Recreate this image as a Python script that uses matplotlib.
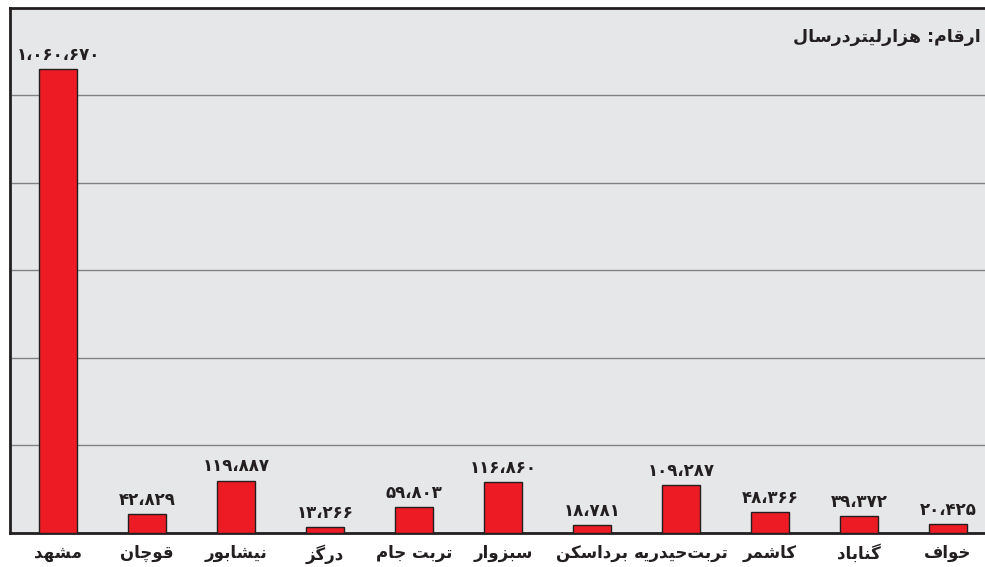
import matplotlib
matplotlib.use("Agg")
import matplotlib.pyplot as plt

CITIES = ["مشهد", "قوچان", "نیشابور", "درگز", "تربت جام", "سبزوار",
          "برداسکن", "تربت\u200cحیدریه", "کاشمر", "گناباد", "خواف"]
VOLUMES = [1060670, 42829, 119887, 13266, 59803, 116860,
           18781, 109287, 48366, 39372, 20425]
UNIT_NOTE = "ارقام: هزارلیتردرسال"

OUTPUT = "out.png"

# presentation forms: isolated, final, initial, medial
FORMS = {
    "ا": ("\uFE8D", "\uFE8E", None, None),
    "ب": ("\uFE8F", "\uFE90", "\uFE91", "\uFE92"),
    "ت": ("\uFE95", "\uFE96", "\uFE97", "\uFE98"),
    "ج": ("\uFE9D", "\uFE9E", "\uFE9F", "\uFEA0"),
    "ح": ("\uFEA1", "\uFEA2", "\uFEA3", "\uFEA4"),
    "خ": ("\uFEA5", "\uFEA6", "\uFEA7", "\uFEA8"),
    "د": ("\uFEA9", "\uFEAA", None, None),
    "ر": ("\uFEAD", "\uFEAE", None, None),
    "ز": ("\uFEAF", "\uFEB0", None, None),
    "س": ("\uFEB1", "\uFEB2", "\uFEB3", "\uFEB4"),
    "ش": ("\uFEB5", "\uFEB6", "\uFEB7", "\uFEB8"),
    "ف": ("\uFED1", "\uFED2", "\uFED3", "\uFED4"),
    "ق": ("\uFED5", "\uFED6", "\uFED7", "\uFED8"),
    "ل": ("\uFEDD", "\uFEDE", "\uFEDF", "\uFEE0"),
    "م": ("\uFEE1", "\uFEE2", "\uFEE3", "\uFEE4"),
    "ن": ("\uFEE5", "\uFEE6", "\uFEE7", "\uFEE8"),
    "ه": ("\uFEE9", "\uFEEA", "\uFEEB", "\uFEEC"),
    "و": ("\uFEED", "\uFEEE", None, None),
    "چ": ("\uFB7A", "\uFB7B", "\uFB7C", "\uFB7D"),
    "ک": ("\uFB8E", "\uFB8F", "\uFB90", "\uFB91"),
    "گ": ("\uFB92", "\uFB93", "\uFB94", "\uFB95"),
    "ی": ("\uFBFC", "\uFBFD", "\uFBFE", "\uFBFF"),
}


def dual(c):
    return c in FORMS and FORMS[c][2] is not None


def shape(text):
    # crude arabic shaping + reversal, matplotlib has no bidi support
    out = []
    n = len(text)
    for i, c in enumerate(text):
        if c not in FORMS:
            if c != "\u200c":
                out.append(c)
            continue
        prev_c = text[i - 1] if i > 0 else ""
        next_c = text[i + 1] if i < n - 1 else ""
        jp = dual(prev_c)
        jn = dual(c) and next_c in FORMS
        iso, fin, ini, med = FORMS[c]
        if jp and jn:
            out.append(med)
        elif jp:
            out.append(fin)
        elif jn:
            out.append(ini)
        else:
            out.append(iso)
    return "".join(reversed(out))


def fa_number(v):
    digits = "۰۱۲۳۴۵۶۷۸۹"
    s = f"{v:,}"
    return "".join(digits[int(ch)] if ch.isdigit() else "\u060C" for ch in s)


def plot():
    fig = plt.figure(figsize=(9.85, 5.67), dpi=100)
    ax = fig.add_axes([0.0102, 0.060, 1.001, 0.926])
    ax.set_facecolor("#e6e7e8")

    x = range(len(CITIES))
    ax.bar(x, VOLUMES, width=0.43, color="#ed1c24", edgecolor="#231f20",
           linewidth=1.0, zorder=3)
    for xi, v in zip(x, VOLUMES):
        ax.text(xi, v + 12000, fa_number(v), ha="center", va="bottom",
                fontsize=12, fontweight="bold", color="#231f20",
                family="DejaVu Sans")

    ax.set_xlim(-0.54, 10.54)
    ax.set_ylim(0, 1200000)
    ax.set_yticks(range(0, 1200001, 200000))
    ax.set_yticklabels([])
    ax.tick_params(axis="y", length=0)
    ax.grid(axis="y", color="#808285", linewidth=1.0, zorder=0)

    ax.set_xticks(list(x))
    ax.set_xticklabels([shape(c) for c in CITIES], fontsize=12,
                       fontweight="bold", color="#231f20")
    ax.tick_params(axis="x", length=0, pad=8)

    for side in ["left", "bottom", "top"]:
        ax.spines[side].set_color("#231f20")
        ax.spines[side].set_linewidth(2.0)
    ax.spines["right"].set_visible(False)

    fig.text(0.996, 0.935, shape(UNIT_NOTE), ha="right", va="center",
             fontsize=12.5, fontweight="bold", color="#231f20")

    fig.savefig(OUTPUT, dpi=100)
    plt.close(fig)


if __name__ == "__main__":
    plot()
